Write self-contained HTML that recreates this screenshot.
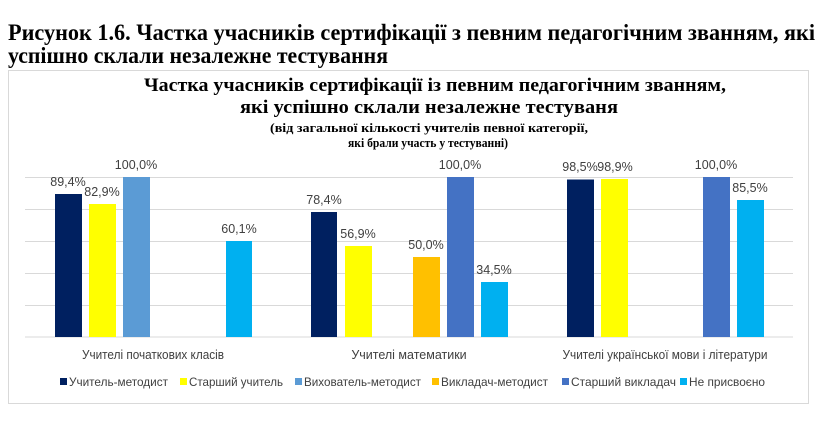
<!DOCTYPE html>
<html><head><meta charset="utf-8"><style>body{margin:0;background:#fff}svg{display:block}</style></head><body>
<svg width="823" height="423" viewBox="0 0 823 423" xmlns="http://www.w3.org/2000/svg">
<g font-family="Liberation Serif, serif" font-weight="bold" fill="#000">
<text x="8" y="40" font-size="23" textLength="807" lengthAdjust="spacingAndGlyphs">Рисунок 1.6. Частка учасників сертифікації з певним педагогічним званням, які</text>
<text x="8" y="63" font-size="23" textLength="380" lengthAdjust="spacingAndGlyphs">успішно склали незалежне тестування</text>
</g>
<rect x="8.5" y="70.5" width="800" height="333" fill="#fff" stroke="#d9d9d9"/>
<g font-family="Liberation Serif, serif" font-weight="bold" fill="#000" text-anchor="middle">
<text x="435" y="91" font-size="19" textLength="582" lengthAdjust="spacingAndGlyphs">Частка учасників сертифікації із певним педагогічним званням,</text>
<text x="429" y="113" font-size="19" textLength="378" lengthAdjust="spacingAndGlyphs">які успішно склали незалежне тестуваня</text>
<text x="429" y="132" font-size="13" textLength="318" lengthAdjust="spacingAndGlyphs">(від загальної кількості учителів певної категорії,</text>
<text x="428" y="147" font-size="13" textLength="160" lengthAdjust="spacingAndGlyphs">які брали участь у тестуванні)</text>
</g>
<g stroke="#d9d9d9" stroke-width="1">
<line x1="25" x2="793" y1="177.5" y2="177.5"/><line x1="25" x2="793" y1="209.5" y2="209.5"/>
<line x1="25" x2="793" y1="241.5" y2="241.5"/><line x1="25" x2="793" y1="273.5" y2="273.5"/>
<line x1="25" x2="793" y1="305.5" y2="305.5"/><line x1="25" x2="793" y1="337" y2="337"/>
</g>
<g>
<rect x="55" y="194" width="27" height="143" fill="#002060"/>
<rect x="89" y="204" width="27" height="133" fill="#ffff00"/>
<rect x="123" y="177" width="27" height="160" fill="#5b9bd5"/>
<rect x="226" y="241" width="26" height="96" fill="#00b0f0"/>
<rect x="311" y="212" width="26" height="125" fill="#002060"/>
<rect x="345" y="246" width="27" height="91" fill="#ffff00"/>
<rect x="413" y="257" width="27" height="80" fill="#ffc000"/>
<rect x="447" y="177" width="27" height="160" fill="#4472c4"/>
<rect x="481" y="282" width="27" height="55" fill="#00b0f0"/>
<rect x="567" y="179.5" width="27" height="157.5" fill="#002060"/>
<rect x="601" y="179" width="27" height="158" fill="#ffff00"/>
<rect x="703" y="177" width="27" height="160" fill="#4472c4"/>
<rect x="737" y="200" width="27" height="137" fill="#00b0f0"/>
</g>
<g font-family="Liberation Sans, sans-serif" font-size="12.5" fill="#404040" text-anchor="middle">
<text x="68" y="186">89,4%</text><text x="102" y="196">82,9%</text><text x="136" y="169">100,0%</text>
<text x="239" y="233">60,1%</text><text x="324" y="204">78,4%</text><text x="358" y="238">56,9%</text>
<text x="426" y="249">50,0%</text><text x="460" y="169">100,0%</text><text x="494" y="274">34,5%</text>
<text x="580" y="171">98,5%</text><text x="615" y="171">98,9%</text><text x="716" y="169">100,0%</text>
<text x="750" y="192">85,5%</text>
<text x="153" y="359" textLength="142" lengthAdjust="spacingAndGlyphs">Учителі початкових класів</text>
<text x="409" y="359">Учителі математики</text>
<text x="665" y="359" textLength="205" lengthAdjust="spacingAndGlyphs">Учителі української мови і літератури</text>
</g>
<g font-family="Liberation Sans, sans-serif" font-size="12" fill="#404040">
<rect x="60" y="378" width="7" height="7" fill="#002060"/><text x="69" y="386" textLength="99" lengthAdjust="spacingAndGlyphs">Учитель-методист</text>
<rect x="180" y="378" width="7" height="7" fill="#ffff00"/><text x="189" y="386" textLength="94" lengthAdjust="spacingAndGlyphs">Старший учитель</text>
<rect x="295" y="378" width="7" height="7" fill="#5b9bd5"/><text x="304" y="386" textLength="117" lengthAdjust="spacingAndGlyphs">Вихователь-методист</text>
<rect x="432" y="378" width="7" height="7" fill="#ffc000"/><text x="441" y="386" textLength="107" lengthAdjust="spacingAndGlyphs">Викладач-методист</text>
<rect x="562" y="378" width="7" height="7" fill="#4472c4"/><text x="571" y="386" textLength="105" lengthAdjust="spacingAndGlyphs">Старший викладач</text>
<rect x="680" y="378" width="7" height="7" fill="#00b0f0"/><text x="689" y="386" textLength="76" lengthAdjust="spacingAndGlyphs">Не присвоєно</text>
</g>
</svg>
</body></html>
